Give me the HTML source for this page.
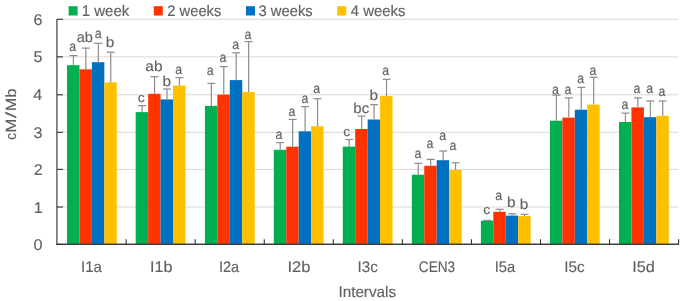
<!DOCTYPE html>
<html><head><meta charset="utf-8">
<style>
html,body{margin:0;padding:0;background:#fff;}
body{width:685px;height:301px;overflow:hidden;}
svg{display:block;filter:blur(0.3px);}
text{font-family:"Liberation Sans",sans-serif;fill:#616161;stroke:#616161;stroke-width:0.15px;text-rendering:geometricPrecision;}
.t{filter:grayscale(1);}
</style></head><body>
<svg width="685" height="301" viewBox="0 0 685 301">
<rect width="685" height="301" fill="#fff"/>
<line x1="56.9" y1="207" x2="678.4" y2="207" stroke="#D9D9D9" stroke-width="1"/>
<line x1="56.9" y1="169.4" x2="678.4" y2="169.4" stroke="#D9D9D9" stroke-width="1"/>
<line x1="56.9" y1="132.3" x2="678.4" y2="132.3" stroke="#D9D9D9" stroke-width="1"/>
<line x1="56.9" y1="94.8" x2="678.4" y2="94.8" stroke="#D9D9D9" stroke-width="1"/>
<line x1="56.9" y1="56.85" x2="678.4" y2="56.85" stroke="#D9D9D9" stroke-width="1"/>
<line x1="56.9" y1="19.3" x2="678.4" y2="19.3" stroke="#D9D9D9" stroke-width="1"/>
<rect x="67" y="65.2" width="12.44" height="179.05" fill="#00B050"/>
<rect x="79.44" y="69.3" width="12.44" height="174.95" fill="#FF3300"/>
<rect x="91.88" y="62.2" width="12.44" height="182.05" fill="#0070C0"/>
<rect x="104.32" y="82.4" width="12.44" height="161.85" fill="#FFC000"/>
<rect x="135.7" y="112.1" width="12.44" height="132.15" fill="#00B050"/>
<rect x="148.14" y="93.8" width="12.44" height="150.45" fill="#FF3300"/>
<rect x="160.58" y="99.4" width="12.44" height="144.85" fill="#0070C0"/>
<rect x="173.02" y="85.6" width="12.44" height="158.65" fill="#FFC000"/>
<rect x="204.91" y="105.9" width="12.44" height="138.35" fill="#00B050"/>
<rect x="217.35" y="94.6" width="12.44" height="149.65" fill="#FF3300"/>
<rect x="229.79" y="80.1" width="12.44" height="164.15" fill="#0070C0"/>
<rect x="242.23" y="92.1" width="12.44" height="152.15" fill="#FFC000"/>
<rect x="273.81" y="149.8" width="12.44" height="94.45" fill="#00B050"/>
<rect x="286.25" y="146.7" width="12.44" height="97.55" fill="#FF3300"/>
<rect x="298.69" y="131.3" width="12.44" height="112.95" fill="#0070C0"/>
<rect x="311.13" y="126.2" width="12.44" height="118.05" fill="#FFC000"/>
<rect x="342.77" y="146.6" width="12.44" height="97.65" fill="#00B050"/>
<rect x="355.21" y="129" width="12.44" height="115.25" fill="#FF3300"/>
<rect x="367.65" y="119.5" width="12.44" height="124.75" fill="#0070C0"/>
<rect x="380.09" y="96.1" width="12.44" height="148.15" fill="#FFC000"/>
<rect x="411.83" y="174.7" width="12.44" height="69.55" fill="#00B050"/>
<rect x="424.27" y="165.8" width="12.44" height="78.45" fill="#FF3300"/>
<rect x="436.71" y="160.2" width="12.44" height="84.05" fill="#0070C0"/>
<rect x="449.15" y="169.9" width="12.44" height="74.35" fill="#FFC000"/>
<rect x="480.88" y="220.7" width="12.44" height="23.55" fill="#00B050"/>
<rect x="493.32" y="211.8" width="12.44" height="32.45" fill="#FF3300"/>
<rect x="505.76" y="215.6" width="12.44" height="28.65" fill="#0070C0"/>
<rect x="518.2" y="216.1" width="12.44" height="28.15" fill="#FFC000"/>
<rect x="549.94" y="120.7" width="12.44" height="123.55" fill="#00B050"/>
<rect x="562.38" y="117.6" width="12.44" height="126.65" fill="#FF3300"/>
<rect x="574.82" y="109.7" width="12.44" height="134.55" fill="#0070C0"/>
<rect x="587.26" y="104.6" width="12.44" height="139.65" fill="#FFC000"/>
<rect x="618.99" y="122" width="12.44" height="122.25" fill="#00B050"/>
<rect x="631.43" y="107.4" width="12.44" height="136.85" fill="#FF3300"/>
<rect x="643.87" y="117.2" width="12.44" height="127.05" fill="#0070C0"/>
<rect x="656.31" y="115.8" width="12.44" height="128.45" fill="#FFC000"/>
<line x1="73.42" y1="65.2" x2="73.42" y2="55.6" stroke="#8C8C8C" stroke-width="1.2"/>
<line x1="69.42" y1="55.6" x2="77.42" y2="55.6" stroke="#8C8C8C" stroke-width="1.2"/>
<line x1="85.86" y1="69.3" x2="85.86" y2="48.1" stroke="#8C8C8C" stroke-width="1.2"/>
<line x1="81.86" y1="48.1" x2="89.86" y2="48.1" stroke="#8C8C8C" stroke-width="1.2"/>
<line x1="98.3" y1="62.2" x2="98.3" y2="43.3" stroke="#8C8C8C" stroke-width="1.2"/>
<line x1="94.3" y1="43.3" x2="102.3" y2="43.3" stroke="#8C8C8C" stroke-width="1.2"/>
<line x1="110.74" y1="82.4" x2="110.74" y2="52.2" stroke="#8C8C8C" stroke-width="1.2"/>
<line x1="106.74" y1="52.2" x2="114.74" y2="52.2" stroke="#8C8C8C" stroke-width="1.2"/>
<line x1="142.12" y1="112.1" x2="142.12" y2="105.6" stroke="#8C8C8C" stroke-width="1.2"/>
<line x1="138.12" y1="105.6" x2="146.12" y2="105.6" stroke="#8C8C8C" stroke-width="1.2"/>
<line x1="154.56" y1="93.8" x2="154.56" y2="76.7" stroke="#8C8C8C" stroke-width="1.2"/>
<line x1="150.56" y1="76.7" x2="158.56" y2="76.7" stroke="#8C8C8C" stroke-width="1.2"/>
<line x1="167" y1="99.4" x2="167" y2="89" stroke="#8C8C8C" stroke-width="1.2"/>
<line x1="163" y1="89" x2="171" y2="89" stroke="#8C8C8C" stroke-width="1.2"/>
<line x1="179.44" y1="85.6" x2="179.44" y2="77.7" stroke="#8C8C8C" stroke-width="1.2"/>
<line x1="175.44" y1="77.7" x2="183.44" y2="77.7" stroke="#8C8C8C" stroke-width="1.2"/>
<line x1="211.33" y1="105.9" x2="211.33" y2="83.4" stroke="#8C8C8C" stroke-width="1.2"/>
<line x1="207.33" y1="83.4" x2="215.33" y2="83.4" stroke="#8C8C8C" stroke-width="1.2"/>
<line x1="223.77" y1="94.6" x2="223.77" y2="66.6" stroke="#8C8C8C" stroke-width="1.2"/>
<line x1="219.77" y1="66.6" x2="227.77" y2="66.6" stroke="#8C8C8C" stroke-width="1.2"/>
<line x1="236.21" y1="80.1" x2="236.21" y2="52.8" stroke="#8C8C8C" stroke-width="1.2"/>
<line x1="232.21" y1="52.8" x2="240.21" y2="52.8" stroke="#8C8C8C" stroke-width="1.2"/>
<line x1="248.65" y1="92.1" x2="248.65" y2="41.6" stroke="#8C8C8C" stroke-width="1.2"/>
<line x1="244.65" y1="41.6" x2="252.65" y2="41.6" stroke="#8C8C8C" stroke-width="1.2"/>
<line x1="280.23" y1="149.8" x2="280.23" y2="142.6" stroke="#8C8C8C" stroke-width="1.2"/>
<line x1="276.23" y1="142.6" x2="284.23" y2="142.6" stroke="#8C8C8C" stroke-width="1.2"/>
<line x1="292.67" y1="146.7" x2="292.67" y2="119.4" stroke="#8C8C8C" stroke-width="1.2"/>
<line x1="288.67" y1="119.4" x2="296.67" y2="119.4" stroke="#8C8C8C" stroke-width="1.2"/>
<line x1="305.11" y1="131.3" x2="305.11" y2="106.6" stroke="#8C8C8C" stroke-width="1.2"/>
<line x1="301.11" y1="106.6" x2="309.11" y2="106.6" stroke="#8C8C8C" stroke-width="1.2"/>
<line x1="317.55" y1="126.2" x2="317.55" y2="98.7" stroke="#8C8C8C" stroke-width="1.2"/>
<line x1="313.55" y1="98.7" x2="321.55" y2="98.7" stroke="#8C8C8C" stroke-width="1.2"/>
<line x1="349.19" y1="146.6" x2="349.19" y2="139.5" stroke="#8C8C8C" stroke-width="1.2"/>
<line x1="345.19" y1="139.5" x2="353.19" y2="139.5" stroke="#8C8C8C" stroke-width="1.2"/>
<line x1="361.63" y1="129" x2="361.63" y2="116.1" stroke="#8C8C8C" stroke-width="1.2"/>
<line x1="357.63" y1="116.1" x2="365.63" y2="116.1" stroke="#8C8C8C" stroke-width="1.2"/>
<line x1="374.07" y1="119.5" x2="374.07" y2="104.7" stroke="#8C8C8C" stroke-width="1.2"/>
<line x1="370.07" y1="104.7" x2="378.07" y2="104.7" stroke="#8C8C8C" stroke-width="1.2"/>
<line x1="386.51" y1="96.1" x2="386.51" y2="79.3" stroke="#8C8C8C" stroke-width="1.2"/>
<line x1="382.51" y1="79.3" x2="390.51" y2="79.3" stroke="#8C8C8C" stroke-width="1.2"/>
<line x1="418.25" y1="174.7" x2="418.25" y2="163.3" stroke="#8C8C8C" stroke-width="1.2"/>
<line x1="414.25" y1="163.3" x2="422.25" y2="163.3" stroke="#8C8C8C" stroke-width="1.2"/>
<line x1="430.69" y1="165.8" x2="430.69" y2="159.4" stroke="#8C8C8C" stroke-width="1.2"/>
<line x1="426.69" y1="159.4" x2="434.69" y2="159.4" stroke="#8C8C8C" stroke-width="1.2"/>
<line x1="443.13" y1="160.2" x2="443.13" y2="151" stroke="#8C8C8C" stroke-width="1.2"/>
<line x1="439.13" y1="151" x2="447.13" y2="151" stroke="#8C8C8C" stroke-width="1.2"/>
<line x1="455.57" y1="169.9" x2="455.57" y2="162.8" stroke="#8C8C8C" stroke-width="1.2"/>
<line x1="451.57" y1="162.8" x2="459.57" y2="162.8" stroke="#8C8C8C" stroke-width="1.2"/>
<line x1="487.3" y1="220.7" x2="487.3" y2="220.4" stroke="#8C8C8C" stroke-width="1.2"/>
<line x1="483.3" y1="220.4" x2="491.3" y2="220.4" stroke="#8C8C8C" stroke-width="1.2"/>
<line x1="499.74" y1="211.8" x2="499.74" y2="209.3" stroke="#8C8C8C" stroke-width="1.2"/>
<line x1="495.74" y1="209.3" x2="503.74" y2="209.3" stroke="#8C8C8C" stroke-width="1.2"/>
<line x1="512.18" y1="215.6" x2="512.18" y2="213.8" stroke="#8C8C8C" stroke-width="1.2"/>
<line x1="508.18" y1="213.8" x2="516.18" y2="213.8" stroke="#8C8C8C" stroke-width="1.2"/>
<line x1="524.62" y1="216.1" x2="524.62" y2="214.3" stroke="#8C8C8C" stroke-width="1.2"/>
<line x1="520.62" y1="214.3" x2="528.62" y2="214.3" stroke="#8C8C8C" stroke-width="1.2"/>
<line x1="556.36" y1="120.7" x2="556.36" y2="95.1" stroke="#8C8C8C" stroke-width="1.2"/>
<line x1="552.36" y1="95.1" x2="560.36" y2="95.1" stroke="#8C8C8C" stroke-width="1.2"/>
<line x1="568.8" y1="117.6" x2="568.8" y2="97.9" stroke="#8C8C8C" stroke-width="1.2"/>
<line x1="564.8" y1="97.9" x2="572.8" y2="97.9" stroke="#8C8C8C" stroke-width="1.2"/>
<line x1="581.24" y1="109.7" x2="581.24" y2="87.4" stroke="#8C8C8C" stroke-width="1.2"/>
<line x1="577.24" y1="87.4" x2="585.24" y2="87.4" stroke="#8C8C8C" stroke-width="1.2"/>
<line x1="593.68" y1="104.6" x2="593.68" y2="77.3" stroke="#8C8C8C" stroke-width="1.2"/>
<line x1="589.68" y1="77.3" x2="597.68" y2="77.3" stroke="#8C8C8C" stroke-width="1.2"/>
<line x1="625.41" y1="122" x2="625.41" y2="113.1" stroke="#8C8C8C" stroke-width="1.2"/>
<line x1="621.41" y1="113.1" x2="629.41" y2="113.1" stroke="#8C8C8C" stroke-width="1.2"/>
<line x1="637.85" y1="107.4" x2="637.85" y2="97.9" stroke="#8C8C8C" stroke-width="1.2"/>
<line x1="633.85" y1="97.9" x2="641.85" y2="97.9" stroke="#8C8C8C" stroke-width="1.2"/>
<line x1="650.29" y1="117.2" x2="650.29" y2="101" stroke="#8C8C8C" stroke-width="1.2"/>
<line x1="646.29" y1="101" x2="654.29" y2="101" stroke="#8C8C8C" stroke-width="1.2"/>
<line x1="662.73" y1="115.8" x2="662.73" y2="101" stroke="#8C8C8C" stroke-width="1.2"/>
<line x1="658.73" y1="101" x2="666.73" y2="101" stroke="#8C8C8C" stroke-width="1.2"/>
<line x1="56.9" y1="19.3" x2="56.9" y2="244.85" stroke="#595959" stroke-width="1.4"/>
<line x1="56.2" y1="244.25" x2="679" y2="244.25" stroke="#404040" stroke-width="1.3"/>
<line x1="56.9" y1="244.5" x2="62.9" y2="244.5" stroke="#333333" stroke-width="1.1"/>
<line x1="56.9" y1="207" x2="62.9" y2="207" stroke="#333333" stroke-width="1.1"/>
<line x1="56.9" y1="169.4" x2="62.9" y2="169.4" stroke="#333333" stroke-width="1.1"/>
<line x1="56.9" y1="132.3" x2="62.9" y2="132.3" stroke="#333333" stroke-width="1.1"/>
<line x1="56.9" y1="94.8" x2="62.9" y2="94.8" stroke="#333333" stroke-width="1.1"/>
<line x1="56.9" y1="56.85" x2="62.9" y2="56.85" stroke="#333333" stroke-width="1.1"/>
<line x1="56.9" y1="19.3" x2="62.9" y2="19.3" stroke="#333333" stroke-width="1.1"/>
<line x1="126.16" y1="244.25" x2="126.16" y2="239.25" stroke="#333333" stroke-width="1.1"/>
<line x1="195.21" y1="244.25" x2="195.21" y2="239.25" stroke="#333333" stroke-width="1.1"/>
<line x1="264.27" y1="244.25" x2="264.27" y2="239.25" stroke="#333333" stroke-width="1.1"/>
<line x1="333.32" y1="244.25" x2="333.32" y2="239.25" stroke="#333333" stroke-width="1.1"/>
<line x1="402.38" y1="244.25" x2="402.38" y2="239.25" stroke="#333333" stroke-width="1.1"/>
<line x1="471.43" y1="244.25" x2="471.43" y2="239.25" stroke="#333333" stroke-width="1.1"/>
<line x1="540.49" y1="244.25" x2="540.49" y2="239.25" stroke="#333333" stroke-width="1.1"/>
<line x1="609.54" y1="244.25" x2="609.54" y2="239.25" stroke="#333333" stroke-width="1.1"/>
<line x1="678.6" y1="244.25" x2="678.6" y2="239.25" stroke="#333333" stroke-width="1.1"/>
<rect x="68.6" y="6.2" width="9.0" height="9.3" fill="#00B050"/>
<rect x="153.8" y="6.2" width="9.0" height="9.3" fill="#FF3300"/>
<rect x="246" y="6.2" width="9.0" height="9.3" fill="#0070C0"/>
<rect x="337.3" y="6.2" width="9.0" height="9.3" fill="#FFC000"/>
<g class="t">
<text transform="translate(69.14,50.86) scale(0.894,1)" font-size="13.82">a</text>
<text transform="translate(76.75,41.66) scale(1.018,1)" font-size="14.29">ab</text>
<text transform="translate(94.69,38.06) scale(0.894,1)" font-size="13.82">a</text>
<text transform="translate(105.85,47.26) scale(1.073,1)" font-size="14.29">b</text>
<text transform="translate(137.72,101.87) scale(1.066,1)" font-size="13.09">c</text>
<text transform="translate(145.31,71.16) scale(1.079,1)" font-size="14.29">ab</text>
<text transform="translate(162.4,85.96) scale(1.073,1)" font-size="14.29">b</text>
<text transform="translate(175.19,73.76) scale(0.894,1)" font-size="13.82">a</text>
<text transform="translate(206.74,75.06) scale(0.894,1)" font-size="13.82">a</text>
<text transform="translate(219.39,62.36) scale(0.894,1)" font-size="13.82">a</text>
<text transform="translate(232.24,48.56) scale(0.894,1)" font-size="13.82">a</text>
<text transform="translate(244.39,39.36) scale(0.894,1)" font-size="13.82">a</text>
<text transform="translate(275.59,138.66) scale(0.894,1)" font-size="13.82">a</text>
<text transform="translate(288.39,115.66) scale(0.894,1)" font-size="13.82">a</text>
<text transform="translate(301.44,103.46) scale(0.894,1)" font-size="13.82">a</text>
<text transform="translate(313.34,93.06) scale(0.894,1)" font-size="13.82">a</text>
<text transform="translate(343.17,136.27) scale(1.066,1)" font-size="13.09">c</text>
<text transform="translate(353.32,113.16) scale(1.052,1)" font-size="14.29">bc</text>
<text transform="translate(369.45,99.76) scale(1.073,1)" font-size="14.29">b</text>
<text transform="translate(382.34,75.06) scale(0.894,1)" font-size="13.82">a</text>
<text transform="translate(414.54,157.86) scale(0.894,1)" font-size="13.82">a</text>
<text transform="translate(426.39,147.76) scale(0.894,1)" font-size="13.82">a</text>
<text transform="translate(439.24,139.86) scale(0.894,1)" font-size="13.82">a</text>
<text transform="translate(449.49,149.76) scale(0.894,1)" font-size="13.82">a</text>
<text transform="translate(483.22,214.37) scale(1.066,1)" font-size="13.09">c</text>
<text transform="translate(495.24,200.16) scale(0.894,1)" font-size="13.82">a</text>
<text transform="translate(507.1,207.16) scale(1.073,1)" font-size="14.29">b</text>
<text transform="translate(519.85,209.16) scale(1.073,1)" font-size="14.29">b</text>
<text transform="translate(551.99,93.66) scale(0.894,1)" font-size="13.82">a</text>
<text transform="translate(564.39,94.16) scale(0.894,1)" font-size="13.82">a</text>
<text transform="translate(577.24,83.26) scale(0.894,1)" font-size="13.82">a</text>
<text transform="translate(589.54,75.06) scale(0.894,1)" font-size="13.82">a</text>
<text transform="translate(621.39,108.96) scale(0.894,1)" font-size="13.82">a</text>
<text transform="translate(633.39,93.16) scale(0.894,1)" font-size="13.82">a</text>
<text transform="translate(646.24,93.16) scale(0.894,1)" font-size="13.82">a</text>
<text transform="translate(658.49,96.26) scale(0.894,1)" font-size="13.82">a</text>
<text transform="translate(33.5,249.85) scale(1.040,1)" font-size="15.49">0</text>
<text transform="translate(33.66,212.5) scale(1.040,1)" font-size="15.49">1</text>
<text transform="translate(33.66,174.9) scale(1.040,1)" font-size="15.49">2</text>
<text transform="translate(33.58,137.65) scale(1.040,1)" font-size="15.49">3</text>
<text transform="translate(33.34,100.3) scale(1.040,1)" font-size="15.49">4</text>
<text transform="translate(33.5,62.2) scale(1.040,1)" font-size="15.49">5</text>
<text transform="translate(33.58,24.65) scale(1.040,1)" font-size="15.49">6</text>
<text transform="translate(81.06,271.7) scale(0.971,1)" font-size="15.36">I1a</text>
<text transform="translate(150.05,271.7) scale(1.049,1)" font-size="15.36">I1b</text>
<text transform="translate(218.99,271.7) scale(0.946,1)" font-size="15.36">I2a</text>
<text transform="translate(287.51,271.7) scale(1.075,1)" font-size="15.36">I2b</text>
<text transform="translate(357.54,271.7) scale(0.986,1)" font-size="15.36">I3c</text>
<text transform="translate(418.82,271.7) scale(0.885,1)" font-size="15.36">CEN3</text>
<text transform="translate(494.67,271.7) scale(0.961,1)" font-size="15.36">I5a</text>
<text transform="translate(564.33,271.7) scale(0.991,1)" font-size="15.36">I5c</text>
<text transform="translate(632.14,271.7) scale(1.059,1)" font-size="15.36">I5d</text>
<text transform="translate(338.43,297) scale(0.993,1)" font-size="15.36">Intervals</text>
<text transform="translate(16.3,200) rotate(-90) translate(60.29,0) scale(0.911,1)" font-size="14.8">c</text>
<text transform="translate(16.3,200) rotate(-90) translate(67.57,0) scale(1.119,1)" font-size="14.8">M</text>
<text transform="translate(16.3,200) rotate(-90) translate(81.8,0) scale(1.572,1)" font-size="14.8">/</text>
<text transform="translate(16.3,200) rotate(-90) translate(89.03,0) scale(1.069,1)" font-size="14.8">M</text>
<text transform="translate(16.3,200) rotate(-90) translate(102.55,0) scale(1.096,1)" font-size="14.8">b</text>
<text transform="translate(81.78,15.7) scale(0.975,1)" font-size="15.37">1 week</text>
<text transform="translate(167.36,15.7) scale(0.957,1)" font-size="15.37">2 weeks</text>
<text transform="translate(258.51,15.7) scale(0.962,1)" font-size="15.37">3 weeks</text>
<text transform="translate(350.73,15.7) scale(0.969,1)" font-size="15.37">4 weeks</text>
</g>
</svg>
</body></html>
